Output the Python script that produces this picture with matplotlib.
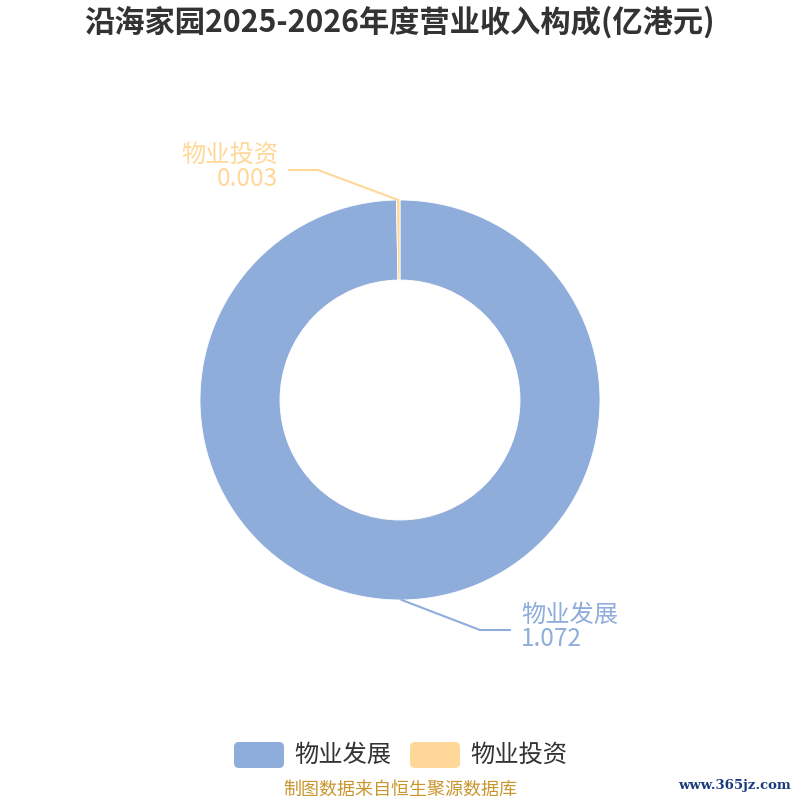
import matplotlib
matplotlib.use("Agg")
import matplotlib.pyplot as plt
from matplotlib.patches import FancyBboxPatch
import numpy as np

plt.rcParams['font.family'] = ['Noto Sans CJK SC', 'DejaVu Sans']

title = "沿海家园2025-2026年度营业收入构成(亿港元)"
categories = ["物业发展", "物业投资"]
values = [1.072, 0.003]
value_labels = ["1.072", "0.003"]
colors = ["#8FADDA", "#FFD899"]
source = "制图数据来自恒生聚源数据库"
watermark = "www.365jz.com"

W = H = 800
fig = plt.figure(figsize=(8, 8), dpi=100)
ax = fig.add_axes([0, 0, 1, 1])
ax.set_xlim(0, W)
ax.set_ylim(0, H)
ax.set_aspect('equal')
ax.axis('off')

def Y(y):
    return H - y

cx, cy = 400, 400
wedges, _ = ax.pie(values, colors=colors, startangle=90, counterclock=False,
                   center=(cx, Y(cy)), radius=200,
                   wedgeprops=dict(width=80, edgecolor='white', linewidth=0.6))
ax.set_xlim(0, W)
ax.set_ylim(0, H)

# labels with leader lines
label_cfg = {
    0: dict(bend=(480, 630), end=(510, 630), tx=521, ha='left'),
    1: dict(bend=(318, 170), end=(289, 170), tx=278, ha='right'),
}
for i, w in enumerate(wedges):
    mid = np.deg2rad((w.theta1 + w.theta2) / 2)
    sx = cx + 200 * np.cos(mid)
    sy = cy - 200 * np.sin(mid)
    cfg = label_cfg[i]
    bx, by = cfg['bend']
    ex, ey = cfg['end']
    ax.plot([sx, bx, ex], [Y(sy), Y(by), Y(ey)], color=colors[i], lw=1.5,
            solid_joinstyle='miter', zorder=1)
    ax.text(cfg['tx'], Y(ey - 15), categories[i], ha=cfg['ha'], va='center',
            fontsize=17.5, color=colors[i])
    ax.text(cfg['tx'], Y(ey + 9), value_labels[i], ha=cfg['ha'], va='center',
            fontsize=17.5, color=colors[i])

# title
ax.text(400, Y(22), title, ha='center', va='center', fontsize=21.8,
        fontweight='bold', color='#333333')

# legend
leg_x = [234, 410]
for i, name in enumerate(categories):
    x0 = leg_x[i]
    box = FancyBboxPatch((x0, Y(768)), 50, 26,
                         boxstyle="round,pad=0,rounding_size=5",
                         facecolor=colors[i], edgecolor='none')
    ax.add_patch(box)
    ax.text(x0 + 60, Y(755), name, ha='left', va='center', fontsize=17.5,
            color='#333333')

# source
ax.text(400, Y(790), source, ha='center', va='center', fontsize=13,
        color='#C9962E')

# watermark
ax.text(734, Y(785), watermark, ha='center', va='center', fontsize=9.5,
        color='#1B3C7C', family=['DejaVu Serif'], fontweight='bold')

fig.savefig("out.png", dpi=100)
